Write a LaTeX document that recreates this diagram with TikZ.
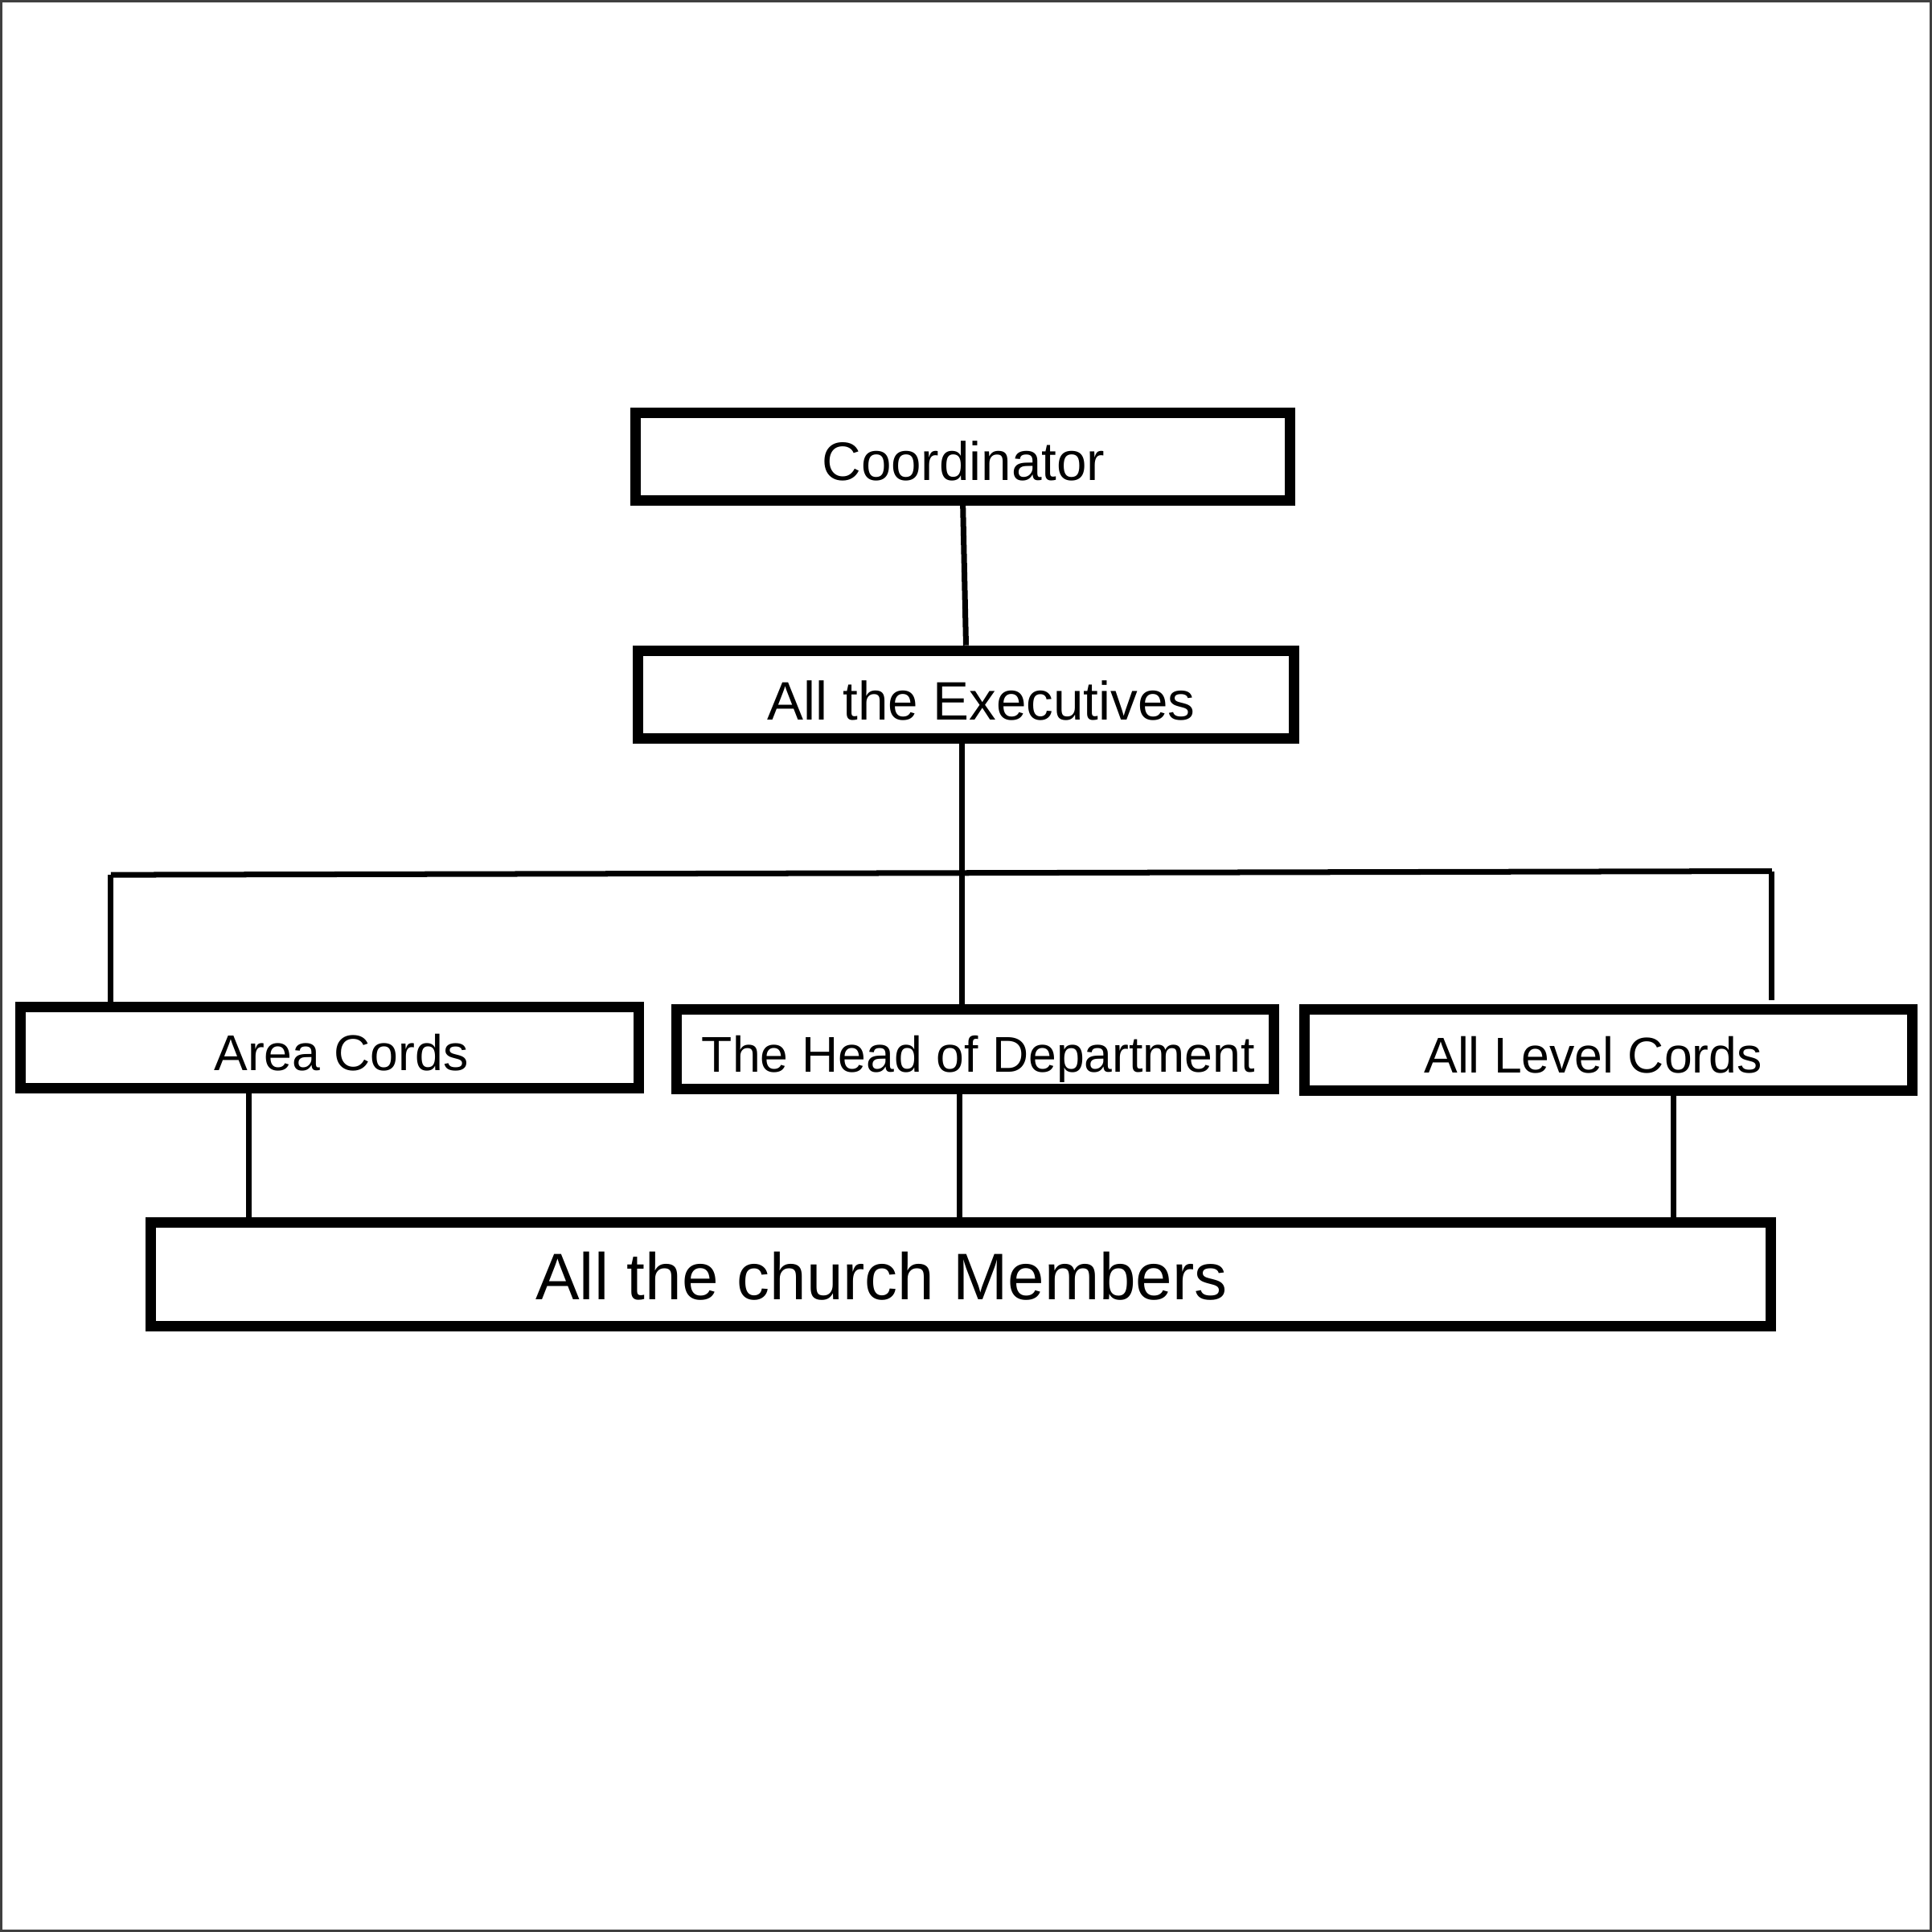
\documentclass[tikz,border=0pt]{standalone}
\usepackage{fontspec}
\setmainfont{Liberation Sans}
\begin{document}
\begin{tikzpicture}[x=0.01cm,y=-0.01cm,
	box/.style={draw,line width=2.4pt,inner sep=0pt},
	link/.style={line width=1.3pt},
	lbl/.style={anchor=base,inner sep=0pt}]
\useasboundingbox (0,0) rectangle (1568,1568);
\draw[color=black!75,line width=0.5pt] (1,1) rectangle (1567,1567);
% boxes
\node[box,minimum width=5.31cm,minimum height=0.71cm] (coord) at (781.5,370.5) {};
\node[box,minimum width=5.32cm,minimum height=0.71cm] (exec) at (784,563.5) {};
\node[box,minimum width=5.01cm,minimum height=0.66cm] (area) at (267.5,850) {};
\node[box,minimum width=4.85cm,minimum height=0.65cm] (head) at (791.5,851.5) {};
\node[box,minimum width=4.93cm,minimum height=0.66cm] (level) at (1305.5,852) {};
\node[box,minimum width=13.14cm,minimum height=0.84cm] (members) at (780,1034) {};
% texts
\node[lbl,font=\fontsize{12.5}{15}\selectfont] (tcoord) at (782,390) {Coordinator};
\node[lbl,font=\fontsize{12.5}{15}\selectfont] (texec) at (796.5,584) {All the Executives};
\node[lbl,font=\fontsize{11.6}{14}\selectfont] (tarea) at (277,869) {Area Cords};
\node[lbl,font=\fontsize{11.6}{14}\selectfont] (thead) at (794,870) {The Head of Department};
\node[lbl,font=\fontsize{11.6}{14}\selectfont] (tlevel) at (1293,871) {All Level Cords};
\node[lbl,font=\fontsize{15.2}{18}\selectfont] (tmembers) at (715.5,1055) {All the church Members};
% connectors
\coordinate (bus) at (781,709);
\coordinate (busL) at (90,710);
\coordinate (busR) at (1438,707);
\coordinate (dA) at (202,0);
\coordinate (dH) at (779,0);
\coordinate (dL) at (1358,0);
\draw[link] (coord.south) -- (exec.north);
\draw[link] (exec.south -| bus) -- (bus |- head.north);
\draw[link] (busL) -- (busR);
\draw[link] (busL) -- (busL |- area.north);
\draw[link] (busR) -- ([yshift=0.03cm]busR |- level.north);
\draw[link] (area.south -| dA) -- (members.north -| dA);
\draw[link] (head.south -| dH) -- (members.north -| dH);
\draw[link] (level.south -| dL) -- (members.north -| dL);
\end{tikzpicture}
\end{document}
